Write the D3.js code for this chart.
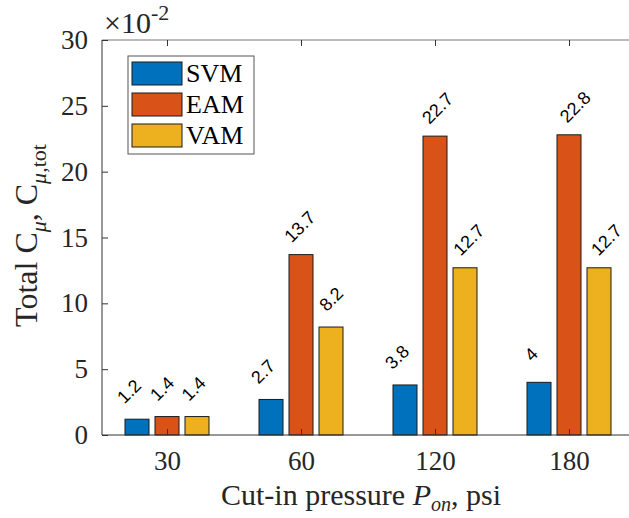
<!DOCTYPE html>
<html>
<head>
<meta charset="utf-8">
<script src="https://cdn.jsdelivr.net/npm/d3@7"></script>
<style>
  body { margin: 0; background: #fff; }
  svg { display: block; }
</style>
</head>
<body>
<svg id="svg"></svg>
<script>
// chart data
var categories = ["30", "60", "120", "180"];
var seriesNames = ["SVM", "EAM", "VAM"];
var seriesColors = ["#0072BD", "#D95319", "#EDB120"];
var svmValues = [1.2, 2.7, 3.8, 4];
var eamValues = [1.4, 13.7, 22.7, 22.8];
var vamValues = [1.4, 8.2, 12.7, 12.7];
var yTicks = [0, 5, 10, 15, 20, 25, 30];

var width = 629, height = 518;
var serif = "'Liberation Serif', 'Times New Roman', serif";
var sans = "'Liberation Sans', Arial, sans-serif";

var svg = d3.select("#svg").attr("width", width).attr("height", height);

// NB: "top" is taken by window.top, so use plot* names
var plotLeft = 102, plotTop = 40, plotBottom = 435;

// categories sit at 1..4, like matlab's bar()
var x = d3.scaleLinear().domain([0.5, 4.5]).range([100, 636]);
var y = d3.scaleLinear().domain([0, 30]).range([plotBottom, plotTop]);

var series = [svmValues, eamValues, vamValues];
var barOffset = 30, barW = 24;

// the value labels drift a bit per group in the original
var labelBase = [-8, -5, -3.5];
var labelDrift = [0, 3.7, 3.6];

// bars
series.forEach(function(vals, s){
    var g = svg.append("g");
    g.selectAll("rect").data(vals).enter().append("rect")
        .attr("x", function(d, i){ return x(i + 1) + (s - 1) * barOffset - barW / 2; })
        .attr("y", function(d){ return y(d); })
        .attr("width", barW)
        .attr("height", function(d){ return y(0) - y(d); })
        .attr("fill", seriesColors[s])
        .attr("stroke", "#1a1a1a")
        .attr("stroke-width", 1);

    // rotated value labels
    g.selectAll("text").data(vals).enter().append("text")
        .attr("transform", function(d, i){
            var cx = x(i + 1) + (s - 1) * barOffset + labelBase[s] + labelDrift[s] * i;
            var cy = y(d) - 28;
            return "translate(" + cx + "," + cy + ") rotate(-45)";
        })
        .attr("text-anchor", "middle")
        .attr("dy", "0.35em")
        .style("font-family", sans)
        .style("font-size", "18px")
        .attr("fill", "#000")
        .text(function(d){ return String(d); });
});

// axes lines
var axisColor = "#333";
svg.append("line").attr("x1", plotLeft).attr("x2", plotLeft).attr("y1", plotTop).attr("y2", plotBottom)
    .attr("stroke", axisColor);
svg.append("line").attr("x1", plotLeft).attr("x2", width + 10).attr("y1", plotBottom).attr("y2", plotBottom)
    .attr("stroke", axisColor);
svg.append("line").attr("x1", plotLeft).attr("x2", width + 10).attr("y1", plotTop).attr("y2", plotTop)
    .attr("stroke", "#777");

// y ticks (inward)
var yAxis = d3.axisLeft(y).tickValues(yTicks).tickSize(-6).tickPadding(14)
    .tickFormat(d3.format("d"));
var gy = svg.append("g").attr("transform", "translate(" + plotLeft + ",0)").call(yAxis);
gy.select(".domain").remove();
gy.selectAll(".tick line").attr("stroke", axisColor);
gy.selectAll(".tick text")
    .style("font-family", serif).style("font-size", "27px").attr("fill", "#262626");

// x ticks bottom (inward) and top (inward)
var xAxis = d3.axisBottom(x).tickValues([1, 2, 3, 4]).tickSize(-6).tickPadding(16)
    .tickFormat(function(d){ return categories[d - 1]; });
var gx = svg.append("g").attr("transform", "translate(0," + plotBottom + ")").call(xAxis);
gx.select(".domain").remove();
gx.selectAll(".tick line").attr("stroke", axisColor);
gx.selectAll(".tick text")
    .style("font-family", serif).style("font-size", "27px").attr("fill", "#262626");

var gxt = svg.append("g").attr("transform", "translate(0," + plotTop + ")")
    .call(d3.axisTop(x).tickValues([1, 2, 3, 4]).tickSize(-6).tickFormat(""));
gxt.select(".domain").remove();
gxt.selectAll(".tick line").attr("stroke", axisColor);

// exponent label
var expo = svg.append("text").attr("x", 104).attr("y", 33)
    .style("font-family", serif).style("font-size", "30px").attr("fill", "#262626");
expo.append("tspan").text("\u00d710");
expo.append("tspan").attr("dy", -13).style("font-size", "22px").text("-2");

// y label
var yl = svg.append("text")
    .attr("transform", "translate(37," + ((plotTop + plotBottom) / 2 - 2) + ") rotate(-90)")
    .attr("text-anchor", "middle")
    .style("font-family", serif).style("font-size", "32px").attr("fill", "#262626");
yl.append("tspan").text("Total C");
yl.append("tspan").attr("dy", 9).style("font-size", "22px").style("font-style", "italic").text("\u03bc");
yl.append("tspan").attr("dy", -9).text(", C");
yl.append("tspan").attr("dy", 9).style("font-size", "22px").style("font-style", "italic").text("\u03bc");
yl.append("tspan").style("font-size", "22px").text(",tot");

// x label
var xl = svg.append("text").attr("x", 361).attr("y", 505)
    .attr("text-anchor", "middle")
    .style("font-family", serif).style("font-size", "30px").attr("fill", "#262626");
xl.append("tspan").text("Cut-in pressure ");
xl.append("tspan").style("font-style", "italic").text("P");
xl.append("tspan").attr("dy", 6).style("font-size", "20px").style("font-style", "italic").text("on");
xl.append("tspan").attr("dy", -6).text(", psi");

// legend
var lg = svg.append("g");
lg.append("rect").attr("x", 128).attr("y", 56).attr("width", 126).attr("height", 98)
    .attr("fill", "#fff").attr("stroke", "#555").attr("stroke-width", 1);
seriesNames.forEach(function(name, i){
    var ly = 62 + i * 31;
    lg.append("rect").attr("x", 132).attr("y", ly).attr("width", 50).attr("height", 23)
        .attr("fill", seriesColors[i]).attr("stroke", "#1a1a1a");
    lg.append("text").attr("x", 186).attr("y", ly + 20)
        .style("font-family", serif).style("font-size", "26px").attr("fill", "#000")
        .text(name);
});
</script>
</body>
</html>
